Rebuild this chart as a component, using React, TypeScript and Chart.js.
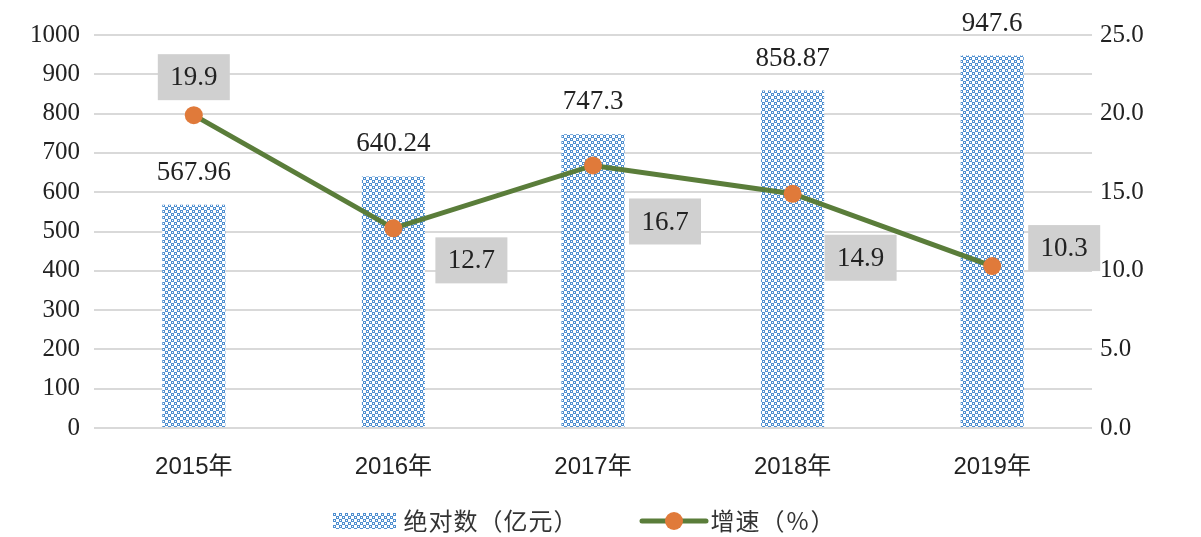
import React, { useEffect, useRef } from "react";
import { Chart, registerables } from "chart.js";

Chart.register(...registerables);

const categories = ["2015年", "2016年", "2017年", "2018年", "2019年"];
const absoluteValues = [567.96, 640.24, 747.3, 858.87, 947.6];
const absoluteLabels = ["567.96", "640.24", "747.3", "858.87", "947.6"];
const growthValues = [19.9, 12.7, 16.7, 14.9, 10.3];
const growthLabels = ["19.9", "12.7", "16.7", "14.9", "10.3"];
const seriesNames = ["绝对数（亿元）", "增速（%）"];

// label box offsets (px) from each growth point
const growthLabelOffsets: [number, number][] = [
  [0, -38],
  [78, 32],
  [72, 56],
  [68, 64],
  [72, -18],
];

const BLUE = "#4f8fd0";
const GREEN = "#5a7d3a";
const ORANGE = "#e07a3a";
const GRID = "#d9d9d9";
const SERIF = "'Liberation Serif', 'DejaVu Serif', serif";
const SANS = "'Liberation Sans', 'Noto Sans CJK SC', sans-serif";
const CJK = "'Noto Sans CJK SC', 'Noto Sans', sans-serif";

function makePattern(): CanvasPattern | string {
  const c = document.createElement("canvas");
  c.width = 6;
  c.height = 6;
  const ctx = c.getContext("2d");
  if (!ctx) return BLUE;
  ctx.fillStyle = "#ffffff";
  ctx.fillRect(0, 0, 6, 6);
  ctx.fillStyle = BLUE;
  ctx.fillRect(0, 0, 3, 3);
  ctx.fillRect(3, 3, 3, 3);
  ctx.fillStyle = "#ffffff";
  ctx.fillRect(1, 1, 1, 1);
  ctx.fillRect(4, 4, 1, 1);
  const p = ctx.createPattern(c, "repeat");
  return p || BLUE;
}

function drawSpaced(ctx: CanvasRenderingContext2D, text: string, x: number, y: number, cell: number) {
  ctx.textAlign = "center";
  Array.from(text).forEach((ch, i) => {
    ctx.fillText(ch, x + cell * i + cell / 2, y);
  });
}

export default function App() {
  const ref = useRef<HTMLCanvasElement | null>(null);

  useEffect(() => {
    document.body.style.margin = "0";
    const canvas = ref.current;
    if (!canvas) return;
    const pattern = makePattern();

    const labelsPlugin = {
      id: "customLabels",
      afterDatasetsDraw(chart: any) {
        const ctx = chart.ctx;
        ctx.save();
        const barMeta = chart.getDatasetMeta(0);
        ctx.font = `27px ${SERIF}`;
        ctx.fillStyle = "#222";
        ctx.textAlign = "center";
        ctx.textBaseline = "middle";
        barMeta.data.forEach((el: any, i: number) => {
          ctx.fillText(absoluteLabels[i], el.x, el.y - 32);
        });
        const lineMeta = chart.getDatasetMeta(1);
        lineMeta.data.forEach((el: any, i: number) => {
          const [dx, dy] = growthLabelOffsets[i];
          const cx = el.x + dx;
          const cy = el.y + dy;
          ctx.fillStyle = "#d0d0d0";
          ctx.fillRect(cx - 36, cy - 23, 72, 46);
          ctx.fillStyle = "#222";
          ctx.font = `27px ${SERIF}`;
          ctx.fillText(growthLabels[i], cx, cy + 1);
        });
        ctx.restore();
      },
      afterDraw(chart: any) {
        const ctx = chart.ctx;
        ctx.save();
        const y = 521;
        ctx.fillStyle = pattern as any;
        ctx.fillRect(333, 513, 63, 16);
        ctx.fillStyle = "#333";
        ctx.font = `24px ${CJK}`;
        ctx.textBaseline = "middle";
        drawSpaced(ctx, seriesNames[0], 403, y, 25);
        ctx.strokeStyle = GREEN;
        ctx.lineWidth = 5;
        ctx.lineCap = "round";
        ctx.beginPath();
        ctx.moveTo(642, y);
        ctx.lineTo(706, y);
        ctx.stroke();
        ctx.fillStyle = ORANGE;
        ctx.beginPath();
        ctx.arc(674, y, 9, 0, Math.PI * 2);
        ctx.fill();
        ctx.fillStyle = "#333";
        drawSpaced(ctx, seriesNames[1], 710, y, 25);
        ctx.restore();
      },
    };

    const chart = new Chart(canvas, {
      type: "bar",
      data: {
        labels: categories,
        datasets: [
          {
            type: "bar",
            label: seriesNames[0],
            data: absoluteValues,
            backgroundColor: pattern as any,
            borderWidth: 0,
            barPercentage: 0.316,
            categoryPercentage: 1,
            yAxisID: "y",
            order: 2,
          },
          {
            type: "line",
            label: seriesNames[1],
            data: growthValues,
            borderColor: GREEN,
            borderWidth: 5,
            pointRadius: 9,
            pointHoverRadius: 9,
            pointBackgroundColor: ORANGE,
            pointBorderWidth: 0,
            tension: 0,
            yAxisID: "y1",
            order: 1,
          } as any,
        ],
      },
      options: {
        animation: false,
        responsive: false,
        maintainAspectRatio: false,
        layout: { padding: { top: 35, left: 0, right: 0, bottom: 0 } },
        plugins: {
          legend: { display: false },
          tooltip: { enabled: false },
        },
        scales: {
          x: {
            offset: true,
            grid: { display: false },
            border: { display: false },
            ticks: {
              color: "#222",
              font: { family: SANS, size: 24 },
              padding: 17,
            },
            afterFit(scale: any) {
              scale.height = 109;
            },
          },
          y: {
            position: "left",
            min: 0,
            max: 1000,
            ticks: {
              stepSize: 100,
              color: "#222",
              font: { family: SERIF, size: 25 },
              padding: 14,
              callback: (v: any) => String(v),
            },
            grid: {
              color: GRID,
              lineWidth: 2,
              drawTicks: false,
            },
            border: { display: false },
            afterFit(scale: any) {
              scale.width = 94;
            },
          },
          y1: {
            position: "right",
            min: 0,
            max: 25,
            ticks: {
              stepSize: 5,
              color: "#222",
              font: { family: SERIF, size: 25 },
              padding: 8,
              callback: (v: any) => Number(v).toFixed(1),
            },
            grid: { display: false, drawTicks: false },
            border: { display: false },
            afterFit(scale: any) {
              scale.width = 109;
            },
          },
        },
      },
      plugins: [labelsPlugin],
    });

    return () => chart.destroy();
  }, []);

  return (
    <div style={{ width: 1201, height: 537, background: "#fff" }}>
      <canvas ref={ref} width={1201} height={537} style={{ display: "block" }} />
    </div>
  );
}
